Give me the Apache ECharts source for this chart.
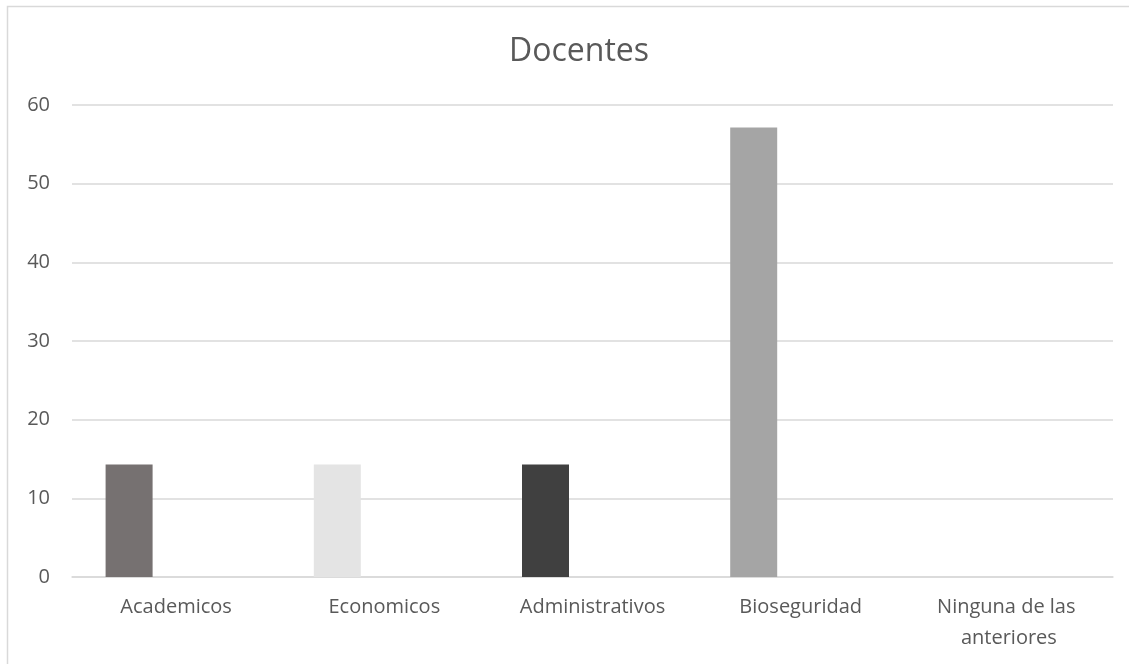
<!DOCTYPE html>
<html>
<head>
<meta charset="utf-8">
<style>
html,body{margin:0;padding:0;background:#fff;}
#chart{width:1129px;height:664px;}
</style>
<script src="https://cdn.jsdelivr.net/npm/echarts@6/dist/echarts.min.js"></script>
</head>
<body>
<div id="chart"></div>
<script>
const titleText = 'Docentes';
const categories = ['Academicos', 'Economicos', 'Administrativos', 'Bioseguridad', 'Ninguna de las anteriores'];
const values = [14.29, 14.29, 14.29, 57.14, 0];
const emptySeries2 = [null, null, null, null, null];
const emptySeries3 = [null, null, null, null, null];
const barColors = ['#767171', '#E4E4E4', '#404040', '#A5A5A5', '#7F7F7F'];

const chart = echarts.init(document.getElementById('chart'));
const font = '"Open Sans", sans-serif';
chart.setOption({
  animation: false,
  backgroundColor: '#fff',
  title: {
    text: titleText,
    left: 504,
    top: 31,
    textStyle: { fontFamily: font, fontSize: 32, fontWeight: 'normal', color: '#595959' }
  },
  graphic: [{
    type: 'rect',
    shape: { x: 7.5, y: 6.5, width: 1130, height: 680 },
    style: { fill: 'none', stroke: '#d9d9d9', lineWidth: 1.5 },
    silent: true
  }],
  grid: { left: 72, right: 16, top: 105, bottom: 87, containLabel: false },
  xAxis: {
    type: 'category',
    data: categories,
    axisLine: { lineStyle: { color: '#d9d9d9', width: 1.5 } },
    axisTick: { show: false },
    axisLabel: {
      color: '#595959', fontFamily: font, fontSize: 20, margin: 15,
      width: 190, overflow: 'break', lineHeight: 31, interval: 0
    }
  },
  yAxis: {
    type: 'value',
    min: 0, max: 60, interval: 10,
    axisLine: { show: false },
    axisTick: { show: false },
    splitLine: { lineStyle: { color: '#d9d9d9', width: 1.5 } },
    axisLabel: { color: '#595959', fontFamily: font, fontSize: 20, margin: 22 }
  },
  series: [
    {
      type: 'bar',
      barWidth: 47,
      barGap: '0%',
      data: values.map((v, i) => ({ value: v, itemStyle: { color: barColors[i] } }))
    },
    { type: 'bar', barWidth: 47, barGap: '0%', data: emptySeries2 },
    { type: 'bar', barWidth: 47, barGap: '0%', data: emptySeries3 }
  ]
});
</script>
</body>
</html>
